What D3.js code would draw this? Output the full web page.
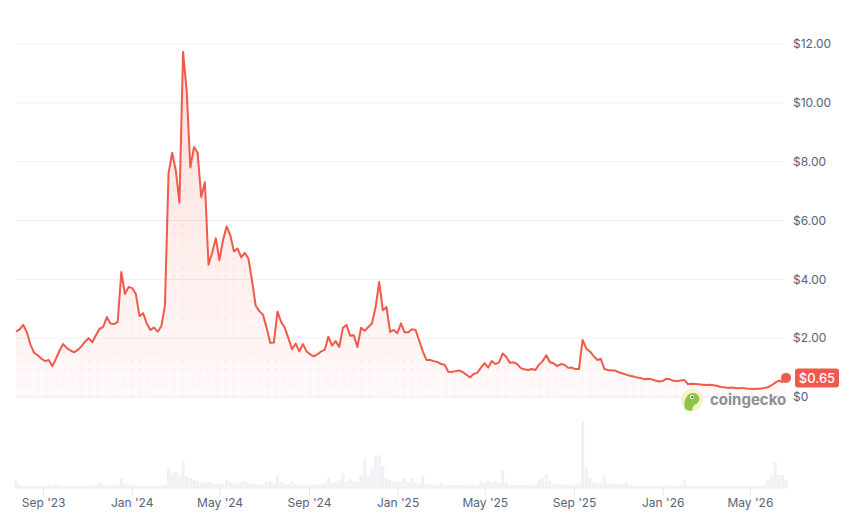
<!DOCTYPE html>
<html lang="en">
<head>
<meta charset="UTF-8">
<title>Price chart</title>
<script src="https://cdn.jsdelivr.net/npm/d3@7"></script>
<style>
  body { margin: 0; background: #fff; }
  svg { display: block; font-family: Inter, "Noto Sans", sans-serif; }
</style>
</head>
<body>
<script>
// one reading every 5 days, starting 25 Jul 2023
var startDate = "2023-07-25";
var stepDays = 5;

var prices = [
  2.22, 2.30, 2.45, 2.20, 1.77, 1.50, 1.42, 1.30, 1.22, 1.26,
  1.05, 1.30, 1.58, 1.80, 1.66, 1.58, 1.52, 1.60, 1.72, 1.88,
  2.00, 1.86, 2.10, 2.32, 2.38, 2.72, 2.50, 2.48, 2.55, 4.25,
  3.50, 3.74, 3.70, 3.50, 2.75, 2.85, 2.50, 2.28, 2.36, 2.22,
  2.40, 3.10, 7.60, 8.30, 7.70, 6.60, 11.73, 10.40, 7.80, 8.50,
  8.30, 6.80, 7.30, 4.50, 4.90, 5.40, 4.65, 5.34, 5.80, 5.50,
  4.95, 5.05, 4.75, 4.90, 4.70, 3.95, 3.10, 2.92, 2.80, 2.35,
  1.84, 1.85, 2.90, 2.55, 2.36, 2.00, 1.62, 1.82, 1.55, 1.80,
  1.55, 1.45, 1.38, 1.45, 1.55, 1.60, 2.05, 1.75, 1.90, 1.70,
  2.35, 2.45, 2.08, 2.10, 1.70, 2.35, 2.25, 2.38, 2.50, 3.05,
  3.91, 2.95, 3.06, 2.21, 2.28, 2.17, 2.50, 2.20, 2.20, 2.30,
  2.28, 1.92, 1.55, 1.26, 1.26, 1.22, 1.19, 1.12, 1.10, 0.86,
  0.85, 0.88, 0.90, 0.85, 0.76, 0.66, 0.78, 0.82, 1.00, 1.15,
  1.00, 1.22, 1.12, 1.18, 1.48, 1.36, 1.16, 1.18, 1.12, 0.98,
  0.94, 0.92, 0.95, 0.92, 1.10, 1.22, 1.42, 1.18, 1.15, 1.05,
  1.12, 1.10, 0.99, 1.00, 0.95, 0.95, 1.94, 1.65, 1.55, 1.40,
  1.26, 1.30, 0.95, 0.92, 0.90, 0.90, 0.84, 0.80, 0.76, 0.72,
  0.70, 0.66, 0.65, 0.60, 0.62, 0.60, 0.56, 0.53, 0.54, 0.62,
  0.60, 0.55, 0.54, 0.56, 0.58, 0.44, 0.45, 0.44, 0.43, 0.42,
  0.41, 0.42, 0.40, 0.38, 0.34, 0.33, 0.31, 0.32, 0.31, 0.30,
  0.31, 0.29, 0.28, 0.27, 0.28, 0.28, 0.31, 0.33, 0.40, 0.48,
  0.56, 0.51, 0.65
];

// trading volume, $M (same dates)
var volumes = [
  7, 3, 2, 2, 2, 2, 2, 2, 2, 3,
  2, 4, 2, 2, 2, 2, 2, 2, 2, 2,
  2, 3, 3, 6, 3, 3, 2, 3, 3, 10,
  4, 3, 3, 2, 2, 2, 2, 2, 2, 2,
  2, 3, 20, 15, 16, 12, 27, 12, 10, 8,
  7, 6, 5, 6, 5, 4, 5, 4, 8, 6,
  4, 5, 6, 7, 5, 4, 4, 3, 4, 6,
  7, 4, 13, 6, 4, 4, 7, 4, 3, 3,
  3, 3, 3, 4, 4, 5, 10, 5, 6, 8,
  15, 6, 9, 7, 6, 13, 29, 12, 20, 32,
  33, 22, 10, 8, 6, 6, 6, 10, 6, 10,
  5, 5, 12, 4, 4, 3, 3, 6, 3, 3,
  3, 3, 3, 3, 3, 3, 4, 3, 7, 5,
  7, 5, 7, 5, 18, 6, 3, 3, 3, 3,
  3, 3, 3, 4, 8, 10, 14, 7, 4, 4,
  3, 4, 3, 3, 4, 5, 67, 20, 10, 6,
  5, 5, 12, 5, 4, 4, 4, 4, 6, 3,
  2, 2, 2, 2, 2, 2, 2, 2, 2, 3,
  2, 2, 2, 3, 8, 3, 2, 2, 2, 2,
  2, 2, 2, 2, 2, 2, 2, 2, 2, 2,
  2, 2, 2, 2, 2, 2, 3, 8, 12, 26,
  13, 13, 8
];

var priceTicks = [0, 2, 4, 6, 8, 10, 12];
var lastLabel = "$0.65";

var w = 853;
var h = 517;
var red = "#f05a4a";

var t0 = d3.timeParse("%Y-%m-%d")(startDate);
var data = prices.map(function (p, i) {
  return { date: d3.timeDay.offset(t0, i * stepDays), price: p, vol: volumes[i] };
});

var xScale = d3.scaleTime()
  .domain(d3.extent(data, d => d.date))
  .range([16, 786]);

var yScale = d3.scaleLinear()
  .domain([0, 12])
  .range([397, 44]);

var vScale = d3.scaleLinear()
  .domain([0, 70])
  .range([488, 418]);

var svg = d3.select("body")
  .append("svg")
  .attr("width", w)
  .attr("height", h);

var defs = svg.append("defs");

var grad = defs.append("linearGradient")
  .attr("id", "areaFill")
  .attr("gradientUnits", "userSpaceOnUse")
  .attr("x1", 0).attr("x2", 0)
  .attr("y1", yScale(12)).attr("y2", yScale(0));
grad.append("stop").attr("offset", 0).attr("stop-color", red).attr("stop-opacity", 0.2);
grad.append("stop").attr("offset", 1).attr("stop-color", red).attr("stop-opacity", 0.03);

var dots = defs.append("pattern")
  .attr("id", "dots")
  .attr("patternUnits", "userSpaceOnUse")
  .attr("width", 8.5).attr("height", 8.5);
dots.append("circle")
  .attr("cx", 4.25).attr("cy", 4.25).attr("r", 1.4)
  .attr("fill", red).attr("fill-opacity", 0.07);

// grid lines + price labels
svg.append("g")
  .selectAll("line")
  .data(priceTicks)
  .enter()
  .append("line")
  .attr("x1", 16)
  .attr("x2", 784)
  .attr("y1", d => yScale(d))
  .attr("y2", d => yScale(d))
  .attr("stroke", "#eceef2")
  .attr("stroke-width", 1);

svg.append("g")
  .selectAll("text")
  .data(priceTicks)
  .enter()
  .append("text")
  .attr("x", 793)
  .attr("y", d => yScale(d))
  .attr("dy", "0.35em")
  .attr("font-size", "12px")
  .attr("fill", "#58627a")
  .text(d => d === 0 ? "$0" : "$" + d.toFixed(2));

// volume bars
var barW = 3.2;
svg.append("g")
  .selectAll("rect")
  .data(data)
  .enter()
  .append("rect")
  .attr("x", d => xScale(d.date) - barW / 2)
  .attr("y", d => vScale(d.vol))
  .attr("width", barW)
  .attr("height", d => vScale(0) - vScale(d.vol))
  .attr("fill", "#f0f1f4");

svg.append("line")
  .attr("x1", 16).attr("x2", 786)
  .attr("y1", vScale(0)).attr("y2", vScale(0))
  .attr("stroke", "#eceef2");

// x axis
var xTicks = xScale.ticks(d3.timeMonth.every(4));
var fmt = d3.timeFormat("%b '%y");
var xg = svg.append("g");
xg.selectAll("line")
  .data(xTicks)
  .enter()
  .append("line")
  .attr("x1", d => xScale(d)).attr("x2", d => xScale(d))
  .attr("y1", vScale(0)).attr("y2", vScale(0) + 8)
  .attr("stroke", "#e3e6eb");
xg.selectAll("text")
  .data(xTicks)
  .enter()
  .append("text")
  .attr("x", d => xScale(d))
  .attr("y", 507)
  .attr("text-anchor", "middle")
  .attr("font-size", "12px")
  .attr("fill", "#58627a")
  .text(d => fmt(d));

// price area + line
var area = d3.area()
  .x(d => xScale(d.date))
  .y0(yScale(0))
  .y1(d => yScale(d.price));

svg.append("path").datum(data).attr("d", area).attr("fill", "url(#areaFill)");
svg.append("path").datum(data).attr("d", area).attr("fill", "url(#dots)");

var line = d3.line()
  .x(d => xScale(d.date))
  .y(d => yScale(d.price));

svg.append("path")
  .datum(data)
  .attr("d", line)
  .attr("fill", "none")
  .attr("stroke", red)
  .attr("stroke-width", 2)
  .attr("stroke-linejoin", "round");

// watermark
var wm = svg.append("g").attr("transform", "translate(692,400)");
wm.append("circle").attr("r", 11).attr("fill", "#f6f2c6");
wm.append("path")
  .attr("d", "M-7,9 C-9,2 -6,-7 1,-7 C6,-7 8,-3 7,1 C6,4 2,4 1,7 L0,11 C-3,11 -5,10 -7,9 Z")
  .attr("fill", "#8dc647");
wm.append("circle").attr("cx", 0).attr("cy", -3).attr("r", 2).attr("fill", "#fff");
wm.append("circle").attr("cx", 0.3).attr("cy", -3).attr("r", 1).attr("fill", "#3a3a3a");
svg.append("text")
  .attr("x", 710)
  .attr("y", 405)
  .attr("font-size", "15px")
  .attr("font-weight", 700)
  .attr("fill", "#8a8f98")
  .text("coingecko");

// last price marker
var last = data[data.length - 1];
svg.append("circle")
  .attr("cx", xScale(last.date))
  .attr("cy", yScale(last.price))
  .attr("r", 5)
  .attr("fill", red);

svg.append("rect")
  .attr("x", 795).attr("y", yScale(last.price) - 9.5)
  .attr("width", 44).attr("height", 19)
  .attr("rx", 3)
  .attr("fill", red);
svg.append("text")
  .attr("x", 817).attr("y", yScale(last.price))
  .attr("dy", "0.36em")
  .attr("text-anchor", "middle")
  .attr("font-size", "13px")
  .attr("font-weight", 500)
  .attr("fill", "#fff")
  .text(lastLabel);
</script>
</body>
</html>
